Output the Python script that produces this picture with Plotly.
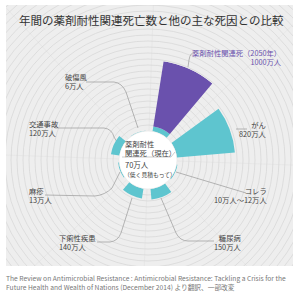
import math
import plotly.graph_objects as go

W, H = 300, 297
CX, CY = 148, 160          # centre of the radial chart (px)
R_HOLE, R_OUT = 29, 100    # px

# ---- data (万人) ----
categories = ["薬剤耐性関連死（2050年）", "がん", "コレラ", "糖尿病",
              "下痢性疾患", "麻疹", "交通事故", "破傷風"]
deaths = [1000, 820, 11, 150, 140, 13, 120, 6]
value_labels = ["1000万人", "820万人", "10万人～12万人", "150万人",
                "140万人", "13万人", "120万人", "6万人"]
amr_now = 70
angles = [24.5 + 45 * i for i in range(8)]

TEAL = "#5ec5cf"
PURPLE = "#6a51ad"
TXT = "#444444"
FONT = "Noto Sans CJK JP"

fig = go.Figure()

# invisible cartesian trace so the panel subplot exists
fig.add_trace(go.Scatter(x=[], y=[], xaxis="x", yaxis="y", showlegend=False, hoverinfo="skip"))

teal_r = [amr_now] + deaths[1:]
fig.add_trace(go.Barpolar(r=teal_r, theta=angles, width=[31] * 8,
                          marker=dict(color=TEAL, line=dict(width=0)),
                          showlegend=False, hoverinfo="skip"))
fig.add_trace(go.Barpolar(r=[deaths[0] - amr_now], base=[amr_now], theta=[angles[0]], width=[31],
                          marker=dict(color=PURPLE, line=dict(width=0)),
                          showlegend=False, hoverinfo="skip"))


def pt(a, r):
    return CX + r * math.sin(math.radians(a)), CY - r * math.cos(math.radians(a))


shapes = []
# spokes
for k in range(8):
    a = 2 + 45 * k
    x0, y0 = pt(a, R_HOLE)
    x1, y1 = pt(a, 230)
    shapes.append(dict(type="line", xref="x", yref="y", x0=x0, y0=y0, x1=x1, y1=y1,
                       line=dict(color="#e3e3e3", width=0.6), layer="below"))
# concentric circles
for r in range(35, 240, 6):
    shapes.append(dict(type="circle", xref="x", yref="y", x0=CX - r, x1=CX + r, y0=CY - r, y1=CY + r,
                       line=dict(color="#d6d6d6", width=0.7), layer="below"))
# centre disc
shapes.append(dict(type="circle", xref="x", yref="y", x0=CX - R_HOLE, x1=CX + R_HOLE,
                   y0=CY - R_HOLE, y1=CY + R_HOLE, fillcolor="white",
                   line=dict(color="#e6e6e6", width=0.6), layer="below"))
# centre separator
shapes.append(dict(type="path", xref="x", yref="y", path="M 122 157 L 171 157 L 175 152",
                   line=dict(color="#aaaaaa", width=0.6), layer="above"))

# leader lines
leaders = [
    "M 196 52 Q 190 52 189 60 L 188 67",
    "M 236 129 L 247 129",
    "M 176 172 L 246 193",
    "M 161 198 L 176 233 Q 180 241 188 241 L 214 241",
    "M 97 242 L 110 242 Q 118 241 121 233 L 132 198",
    "M 45 195 L 95 196 Q 105 195 112 188 L 120 172",
    "M 55 128 L 104 128 Q 112 129 114 137 L 117 142",
    "M 86 82 L 114 82 Q 122 83 126 92 L 138 128",
]
for p in leaders:
    shapes.append(dict(type="path", xref="x", yref="y", path=p,
                       line=dict(color="#9a9a9a", width=0.7), layer="below"))


def px(x):
    return x / W


def py(y):
    return 1 - y / H


annotations = []


def ann(x, y, text, xanchor="left", color=TXT, size=7.3, align=None):
    annotations.append(dict(x=px(x), y=py(y), xref="paper", yref="paper", text=text,
                            showarrow=False, xanchor=xanchor, yanchor="middle",
                            align=align or xanchor, font=dict(family=FONT, size=size, color=color)))


ann(151, 20, "年間の薬剤耐性関連死亡数と他の主な死因との比較", xanchor="center", color="#333333", size=11.5)

# outer labels: (x, y, anchor)
label_pos = [(284, 57, "right"), (268, 129, "right"), (269, 195, "right"), (243, 242, "right"),
             (57, 242, "left"), (27, 195, "left"), (27, 128, "left"), (63, 81, "left")]
for i, (x, y, anc) in enumerate(label_pos):
    col = PURPLE if i == 0 else TXT
    ann(x, y, categories[i] + "<br>" + value_labels[i], xanchor=anc, color=col)

# centre labels
ann(123, 148, "薬剤耐性<br>関連死（現在）", size=7.3)
ann(123, 164, str(amr_now) + "万人", size=7.5)
ann(122, 174, "（低く見積もって）", size=5.8)

# source
ann(4, 282, "The Review on Antimicrobial Resistance : Antimicrobial Resistance: Tackling a Crisis for the<br>"
            "Future Health and Wealth of Nations (December 2014) より翻訳、一部改変",
    color="#777777", size=6.7)

fig.update_layout(
    width=W, height=H, margin=dict(l=0, r=0, t=0, b=0),
    paper_bgcolor="white", plot_bgcolor="#eeeeee",
    xaxis=dict(domain=[6 / W, 293 / W], range=[6, 293], visible=False, fixedrange=True),
    yaxis=dict(domain=[1 - 266 / H, 1 - 5 / H], range=[266, 5], visible=False, fixedrange=True),
    polar=dict(
        domain=dict(x=[(CX - R_OUT) / W, (CX + R_OUT) / W], y=[1 - (CY + R_OUT) / H, 1 - (CY - R_OUT) / H]),
        hole=R_HOLE / R_OUT, bgcolor="rgba(0,0,0,0)", barmode="overlay",
        radialaxis=dict(range=[0, 1000], visible=False, showgrid=False),
        angularaxis=dict(rotation=90, direction="clockwise", visible=False, showgrid=False),
    ),
    shapes=shapes, annotations=annotations, showlegend=False,
)

fig.write_html("out.html")
